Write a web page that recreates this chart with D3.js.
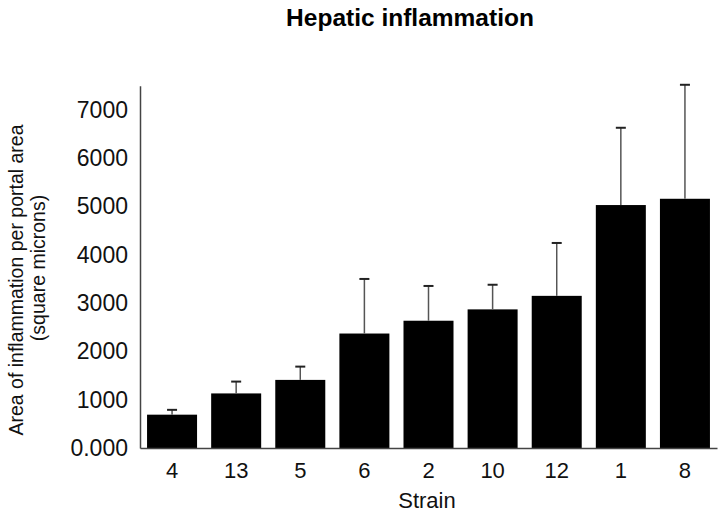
<!DOCTYPE html>
<html><head><meta charset="utf-8">
<script src="https://cdn.jsdelivr.net/npm/d3@7/dist/d3.min.js"></script>
<style>body{margin:0;background:#fff}</style>
</head><body>
<svg id="c" width="720" height="512"></svg>
<script>
const strains = ["4","13","5","6","2","10","12","1","8"];
const means = [690, 1130, 1410, 2370, 2635, 2870, 3150, 5030, 5160];
const errTops = [790, 1375, 1685, 3500, 3355, 3380, 4245, 6630, 7520];
const yTicks = [0,1000,2000,3000,4000,5000,6000,7000];
const yTickLabels = ["0.000","1000","2000","3000","4000","5000","6000","7000"];

const svg = d3.select("#c");
const font = "'Liberation Sans', Arial, sans-serif";
const x = d3.scaleBand().domain(strains).range([140, 717]).paddingInner(0.22).paddingOuter(0.11);
const y = d3.scaleLinear().domain([0, 7500]).range([448, 85.75]);

svg.selectAll("rect.bar").data(strains).join("rect")
  .attr("x", d => x(d)).attr("width", x.bandwidth())
  .attr("y", (d,i) => y(means[i])).attr("height", (d,i) => y(0) - y(means[i]))
  .attr("fill", "#000");

const eb = svg.append("g").attr("stroke", "#555").attr("stroke-width", 1.5);
strains.forEach((d,i) => {
  const cx = x(d) + x.bandwidth()/2;
  eb.append("line").attr("x1", cx).attr("x2", cx).attr("y1", y(means[i])).attr("y2", y(errTops[i]));
  eb.append("line").attr("x1", cx-5).attr("x2", cx+5).attr("y1", y(errTops[i])).attr("y2", y(errTops[i])).attr("stroke","#222").attr("stroke-width",2);
});

// axes
const yAxis = d3.axisLeft(y).tickValues(yTicks).tickFormat((d,i) => yTickLabels[i]).tickSize(0).tickPadding(12);
const gy = svg.append("g").attr("transform", "translate(140,0)").call(yAxis);
gy.select(".domain").attr("stroke", "#444").attr("stroke-width", 1.5);
gy.selectAll("text").attr("font-family", font).attr("font-size", 23).attr("fill", "#111");

const xAxis = d3.axisBottom(x).tickSize(0).tickPadding(14);
const gx = svg.append("g").attr("transform", "translate(0,448)").call(xAxis);
gx.select(".domain").attr("stroke", "#444").attr("stroke-width", 1.5);
gx.selectAll("text").attr("font-family", font).attr("font-size", 22).attr("fill", "#111");

svg.append("text").attr("x", 410).attr("y", 26).attr("text-anchor", "middle")
  .attr("font-family", font).attr("font-weight", "bold").attr("font-size", 24.5).text("Hepatic inflammation");

svg.append("text").attr("x", 427).attr("y", 508).attr("text-anchor", "middle")
  .attr("font-family", font).attr("font-size", 22).attr("fill", "#111").text("Strain");

const yl = svg.append("text").attr("transform", "rotate(-90)")
  .attr("text-anchor", "middle").attr("font-family", font).attr("font-size", 19.5).attr("fill", "#111");
yl.append("tspan").attr("x", -280).attr("y", 23).text("Area of inflammation per portal area");
yl.append("tspan").attr("x", -268).attr("y", 45).text("(square microns)");
</script>
</body></html>
